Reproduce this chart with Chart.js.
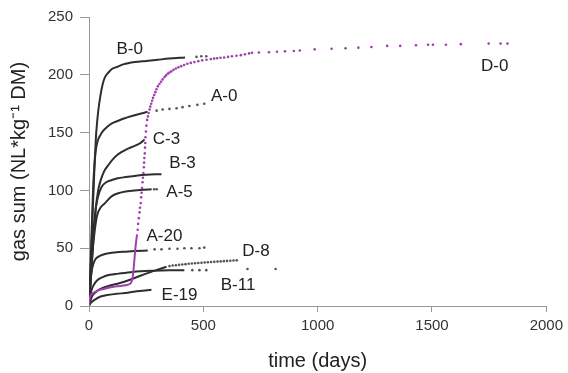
<!DOCTYPE html>
<html>
<head>
<meta charset="utf-8">
<script src="https://cdn.jsdelivr.net/npm/chart.js@4.4.0/dist/chart.umd.min.js"></script>
<style>
  html, body { margin: 0; padding: 0; background: #fff; }
</style>
</head>
<body>
<canvas id="gasChart" width="568" height="373"></canvas>
<script>
// measured gas sums, [day, NL/kg DM]; "curve" = dense part, "tail" = sparse dots
const B0_curve = [[0,0],[5,20],[10,45],[15,75],[20,100],[25,125],[30,145],[35,158],[40,168],[50,182],[60,192],[70,198],[85,202],[100,205],[125,207],[150,209],[200,211],[250,212],[300,213],[350,214],[420,215]];
const B0_tail = [[470,215.5],[491,216],[513,216]];

const A0_curve = [[0,0],[5,25],[10,55],[15,85],[20,110],[30,135],[40,144],[50,148],[60,151],[80,155],[100,158],[125,160],[150,162],[200,165],[256,168]];
const A0_tail = [[296,169],[322,170],[352,170.5],[383,171],[409,172],[439,173],[474,174],[504,175]];

const C3_curve = [[0,0],[10,30],[20,60],[30,85],[40,100],[50,108],[65,116],[85,122],[105,127],[126,131],[150,134],[175,136.5],[200,138.5],[225,141],[243,144]];

const B3_curve = [[0,0],[10,35],[20,65],[30,85],[40,95],[55,103],[75,107],[100,109],[126,110.5],[160,111.5],[200,112.5],[250,113.5],[317,114]];

const A5_curve = [[0,0],[10,30],[17,50],[25,65],[35,78],[50,85],[70,89],[100,95],[128,97.5],[160,99],[200,100],[240,100.5],[274,101]];
const A5_tail = [[285,101],[296,101]];

const A20_curve = [[0,0],[5,15],[10,28],[20,37],[30,41],[50,43.5],[70,45],[100,46],[121,46.5],[160,47],[200,47.5],[257,48]];
const A20_tail = [[287,49],[317,49],[352,49.5],[387,49.5],[417,50],[448,50],[483,50],[504,50.5]];

const D8_curve = [[0,0],[12,8],[30,12],[48,14.5],[80,17],[128,19.5],[170,22],[222,26],[272,29.5],[310,32],[339,34]];
const D8_tail = [[352,34.5],[366,35],[380,35.3],[394,35.6],[408,35.9],[422,36.2],[436,36.5],[450,36.8],[464,37],[478,37.2],[492,37.4],[506,37.6],[520,37.8],[534,38],[548,38.2],[562,38.4],[576,38.6],[590,38.8],[604,39],[618,39.1],[632,39.3],[646,39.5]];

const B11_curve = [[0,0],[5,8],[10,13],[20,18],[35,22],[60,25],[91,27],[128,28],[191,29.5],[272,30.5],[350,31],[417,31]];
const B11_tail = [[452,31],[483,31],[513,31],[693,32],[816,32]];

const E19_curve = [[0,0],[5,2],[15,4],[30,6],[48,8],[80,9.5],[121,10.5],[170,11.5],[220,13],[273,14]];

const D0_curve = [[0,0],[2,5],[5,8],[10,10],[25,12],[48,14],[80,15.5],[121,17],[160,18],[178,19],[186,21],[191,25],[195,32],[199,41],[203,50],[207,57],[210,62]];
const D0_tail = [[213,66],[215,71],[218,76],[221,81],[223,85],[226,89],[228,94],[230,98],[232,102],[234,107],[236,111],[238,115],[240,120],[241,124],[242,128],[244,132],[245,137],[246,141],[247,146],[249,151],[251,156],[254,161],[258,164],[261,167],[265,170],[268,172.5],[272,175],[276,177.5],[280,180],[285,182.5],[290,185],[295,187.5],[301,190],[308,192],[315,194],[322,196],[330,198],[337,199.5],[345,201],[352,202],[360,203],[370,204.3],[380,205.5],[391,206.5],[403,207.5],[416,208.5],[430,209.5],[445,210.3],[461,211],[478,211.8],[495,212.5],[514,213],[533,213.6],[547,214],[560,214.3],[575,214.7],[591,215],[608,215.5],[625,216],[645,216.5],[664,217],[682,217.8],[700,218.5],[713,219],[743,219.3],[787,219.5],[822,220],[857,220.3],[896,220.6],[922,221],[987,222],[1061,222.5],[1122,223],[1178,223.5],[1235,224],[1304,225],[1361,225],[1430,225.5],[1483,226],[1504,226],[1561,226],[1626,226.5],[1748,227],[1800,227],[1830,227]];

// curve names and where they sit (day, gas sum)
const curveNames = ['B-0', 'A-0', 'C-3', 'B-3', 'A-5', 'A-20', 'D-8', 'B-11', 'E-19', 'D-0'];
const nameDays = [178, 591, 339, 409, 396, 330, 730, 652, 396, 1774];
const nameGas = [222, 181, 144, 123, 98, 60, 47, 18, 9.5, 207];

const xTicks = [0, 500, 1000, 1500, 2000];
const yTicks = [0, 50, 100, 150, 200, 250];

const FONT = '"Liberation Sans", Arial, Helvetica, sans-serif';
const GRAY = '#2e2e2e';
const MAGENTA = '#a23fb0';

function pts(arr) {
    return arr.map(p => ({ x: p[0], y: p[1] }));
}

function curveSet(arr, color) {
    return {
        data: pts(arr),
        showLine: true,
        borderColor: color,
        borderWidth: 2,
        pointRadius: 0,
        cubicInterpolationMode: 'monotone',
        order: color === MAGENTA ? 0 : 2
    };
}

function tailSet(arr, color) {
    return {
        data: pts(arr),
        showLine: false,
        pointRadius: 1.3,
        pointBorderWidth: 0,
        backgroundColor: color,
        order: color === MAGENTA ? 0 : 2
    };
}

const curveLabels = {
    id: 'curveLabels',
    afterDatasetsDraw(chart) {
        const { ctx, scales: { x, y } } = chart;
        ctx.save();
        ctx.font = '17px ' + FONT;
        ctx.fillStyle = '#222';
        ctx.textAlign = 'center';
        ctx.textBaseline = 'middle';
        curveNames.forEach((name, i) => {
            ctx.fillText(name, x.getPixelForValue(nameDays[i]), y.getPixelForValue(nameGas[i]));
        });
        ctx.restore();
    }
};

const ctx = document.getElementById('gasChart').getContext('2d');
new Chart(ctx, {
    type: 'scatter',
    data: {
        datasets: [
            curveSet(B0_curve, GRAY), tailSet(B0_tail, '#555'),
            curveSet(A0_curve, GRAY), tailSet(A0_tail, '#555'),
            curveSet(C3_curve, GRAY),
            curveSet(B3_curve, GRAY),
            curveSet(A5_curve, GRAY), tailSet(A5_tail, '#555'),
            curveSet(A20_curve, GRAY), tailSet(A20_tail, '#555'),
            curveSet(D8_curve, GRAY), tailSet(D8_tail, '#555'),
            curveSet(B11_curve, GRAY), tailSet(B11_tail, '#555'),
            curveSet(E19_curve, GRAY),
            curveSet(D0_curve, MAGENTA), tailSet(D0_tail, MAGENTA)
        ]
    },
    options: {
        responsive: false,
        animation: false,
        layout: { padding: { top: 17, right: 19, left: 0, bottom: 0 } },
        plugins: {
            legend: { display: false },
            tooltip: { enabled: false }
        },
        scales: {
            x: {
                type: 'linear',
                min: 0,
                max: 2000,
                afterBuildTicks: (scale) => { scale.ticks = xTicks.map(v => ({ value: v })); },
                afterFit: (scale) => { scale.height = 67; },
                ticks: {
                    font: { family: FONT, size: 15 },
                    color: '#333',
                    padding: 5,
                    callback: (v) => String(v)
                },
                grid: { drawOnChartArea: false, tickLength: 6, color: '#999' },
                border: { color: '#999' },
                title: {
                    display: true,
                    text: 'time (days)',
                    font: { family: FONT, size: 20 },
                    color: '#222',
                    padding: { top: 4, bottom: 0 }
                }
            },
            y: {
                type: 'linear',
                min: 0,
                max: 250,
                afterBuildTicks: (scale) => { scale.ticks = yTicks.map(v => ({ value: v })); },
                afterFit: (scale) => { scale.width = 89; },
                ticks: {
                    font: { family: FONT, size: 15 },
                    color: '#333',
                    padding: 7,
                    callback: (v) => String(v)
                },
                grid: { drawOnChartArea: false, tickLength: 9, color: '#999' },
                border: { color: '#999' },
                title: {
                    display: true,
                    text: 'gas sum (NL*kg\u207B\u00B9 DM)',
                    font: { family: FONT, size: 20 },
                    color: '#222',
                    padding: { top: 7, bottom: 0 }
                }
            }
        }
    },
    plugins: [curveLabels]
});
</script>
</body>
</html>
